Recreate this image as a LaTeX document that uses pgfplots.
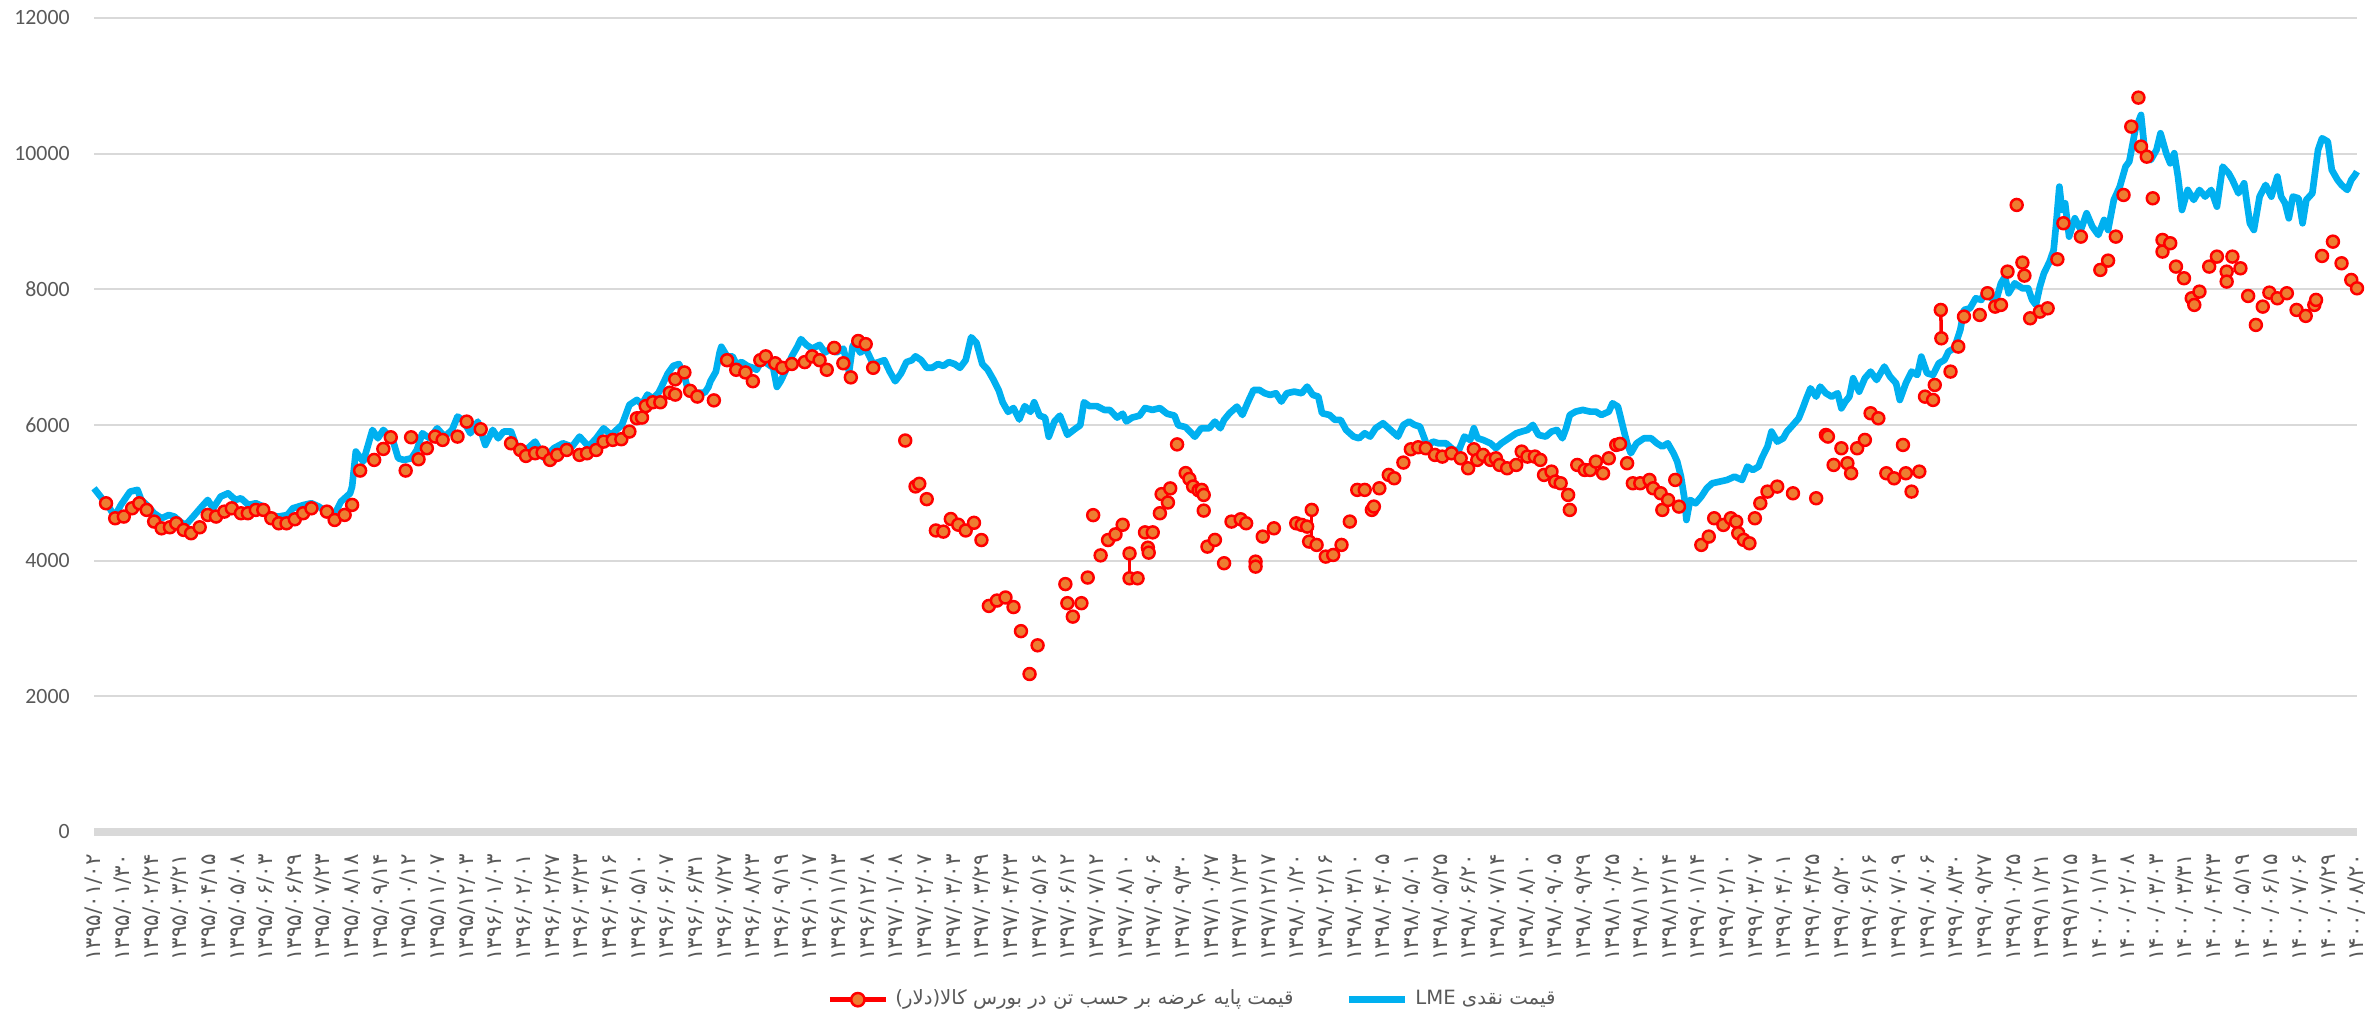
\documentclass[border=0pt]{standalone}
\usepackage{fontspec}
\setmainfont{Carlito}
\newfontfamily\fa[Script=Arabic]{DejaVu Sans}
\usepackage{pgfplots}
\pgfplotsset{compat=1.18}
\TeXXeTstate=1
\definecolor{lmeblue}{HTML}{00B0F0}
\definecolor{mkorange}{HTML}{ED7D31}
\definecolor{gridgray}{HTML}{D9D9D9}
\definecolor{labelgray}{HTML}{595959}
\begin{document}
\begin{tikzpicture}
\begin{axis}[
  name=ax,
  scale only axis, width=22.63cm, height=8.14cm,
  xmin=0, xmax=79, ymin=0, ymax=12000,
  clip=false,
  ytick={0,2000,...,12000},
  xtick={0,...,79},
  xticklabels={۱۳۹۵/۰۱/۰۲,۱۳۹۵/۰۱/۳۰,۱۳۹۵/۰۲/۲۴,۱۳۹۵/۰۳/۲۱,۱۳۹۵/۰۴/۱۵,۱۳۹۵/۰۵/۰۸,۱۳۹۵/۰۶/۰۳,۱۳۹۵/۰۶/۲۹,۱۳۹۵/۰۷/۲۳,۱۳۹۵/۰۸/۱۸,۱۳۹۵/۰۹/۱۴,۱۳۹۵/۱۰/۱۲,۱۳۹۵/۱۱/۰۷,۱۳۹۵/۱۲/۰۳,۱۳۹۶/۰۱/۰۳,۱۳۹۶/۰۲/۰۱,۱۳۹۶/۰۲/۲۷,۱۳۹۶/۰۳/۲۳,۱۳۹۶/۰۴/۱۶,۱۳۹۶/۰۵/۱۰,۱۳۹۶/۰۶/۰۷,۱۳۹۶/۰۶/۳۱,۱۳۹۶/۰۷/۲۷,۱۳۹۶/۰۸/۲۳,۱۳۹۶/۰۹/۱۹,۱۳۹۶/۱۰/۱۷,۱۳۹۶/۱۱/۱۳,۱۳۹۶/۱۲/۰۸,۱۳۹۷/۰۱/۰۸,۱۳۹۷/۰۲/۰۷,۱۳۹۷/۰۳/۰۳,۱۳۹۷/۰۳/۲۹,۱۳۹۷/۰۴/۲۳,۱۳۹۷/۰۵/۱۶,۱۳۹۷/۰۶/۱۲,۱۳۹۷/۰۷/۱۲,۱۳۹۷/۰۸/۱۰,۱۳۹۷/۰۹/۰۶,۱۳۹۷/۰۹/۳۰,۱۳۹۷/۱۰/۲۷,۱۳۹۷/۱۱/۲۳,۱۳۹۷/۱۲/۱۷,۱۳۹۸/۰۱/۲۰,۱۳۹۸/۰۲/۱۶,۱۳۹۸/۰۳/۱۰,۱۳۹۸/۰۴/۰۵,۱۳۹۸/۰۵/۰۱,۱۳۹۸/۰۵/۲۵,۱۳۹۸/۰۶/۲۰,۱۳۹۸/۰۷/۱۴,۱۳۹۸/۰۸/۱۰,۱۳۹۸/۰۹/۰۵,۱۳۹۸/۰۹/۲۹,۱۳۹۸/۱۰/۲۵,۱۳۹۸/۱۱/۲۰,۱۳۹۸/۱۲/۱۴,۱۳۹۹/۰۱/۱۴,۱۳۹۹/۰۲/۱۰,۱۳۹۹/۰۳/۰۷,۱۳۹۹/۰۴/۰۱,۱۳۹۹/۰۴/۲۵,۱۳۹۹/۰۵/۲۰,۱۳۹۹/۰۶/۱۶,۱۳۹۹/۰۷/۰۹,۱۳۹۹/۰۸/۰۶,۱۳۹۹/۰۸/۳۰,۱۳۹۹/۰۹/۲۷,۱۳۹۹/۱۰/۲۵,۱۳۹۹/۱۱/۲۱,۱۳۹۹/۱۲/۱۵,۱۴۰۰/۰۱/۱۳,۱۴۰۰/۰۲/۰۸,۱۴۰۰/۰۳/۰۳,۱۴۰۰/۰۳/۳۱,۱۴۰۰/۰۴/۲۳,۱۴۰۰/۰۵/۱۹,۱۴۰۰/۰۶/۱۵,۱۴۰۰/۰۷/۰۶,۱۴۰۰/۰۷/۲۹,۱۴۰۰/۰۸/۲۰},
  x tick label style={rotate=90, anchor=east, font=\fa\fontsize{6.1}{7}\selectfont, text=labelgray, inner sep=1pt},
  y tick label style={font=\fontsize{6.2}{7}\selectfont, text=labelgray},
  xticklabel shift=0.18cm,
  yticklabel shift=0.12cm,
  ymajorgrids, grid style={draw=gridgray, line width=0.6pt},
  axis line style={draw=none},
  major tick length=0pt,
  scaled y ticks=false,
  /pgf/number format/1000 sep={},
  /pgf/number format/assume math mode=true,
  extra y ticks={0}, extra y tick labels={},
  extra y tick style={grid=major, major grid style={draw=gridgray, line width=2.3pt}},
  legend columns=2,
  legend style={draw=none, fill=none, at={(0.4865,-0.206)}, anchor=center,
    font=\fa\fontsize{5.6}{7}\selectfont, text=labelgray,
    /tikz/every even column/.append style={column sep=0.45cm}},
  legend cell align=left,
]
% connecting red segments where consecutive points exist
\addplot[red, line width=1pt, forget plot] coordinates {(36.15,4106)(36.15,3740)};
\addplot[red, line width=1pt, forget plot] coordinates {(42.51,4748)(42.51,4281)};
\addplot[red, line width=1pt, forget plot] coordinates {(64.47,7696)(64.49,7278)};
% base price on commodity exchange
\addplot[only marks, mark=*, mark size=1.7pt, mark options={draw=red, fill=mkorange, line width=0.7pt},
  legend image code/.code={\draw[red, line width=1.4pt] (0cm,0cm) -- (0.56cm,0cm);
    \draw[red, fill=mkorange, line width=0.7pt] (0.28cm,0cm) circle (1.9pt);}]
coordinates {
(0.42,4846)(0.74,4625)(1.04,4650)(1.33,4772)(1.58,4846)(1.84,4748)(2.10,4576)(2.36,4477)(2.65,4492)(2.87,4551)
(3.13,4453)(3.39,4404)(3.69,4492)(3.97,4674)(4.26,4650)(4.55,4723)(4.81,4772)(5.13,4699)(5.37,4699)(5.65,4748)
(5.91,4748)(6.19,4625)(6.45,4551)(6.72,4551)(7.01,4610)(7.30,4699)(7.59,4772)(8.13,4723)(8.40,4600)(8.75,4674)
(9.01,4822)(9.29,5328)(9.78,5485)(10.10,5647)(10.36,5819)(10.88,5328)(11.07,5819)(11.33,5495)(11.62,5657)(11.91,5829)
(12.17,5780)(12.69,5829)(13.01,6050)(13.50,5937)(14.56,5730)(14.88,5632)(15.08,5544)(15.40,5583)(15.66,5593)(15.92,5485)
(16.17,5559)(16.50,5632)(16.95,5559)(17.21,5583)(17.53,5632)(17.79,5755)(18.11,5780)(18.41,5790)(18.69,5903)(18.95,6099)
(19.13,6109)(19.26,6278)(19.51,6335)(19.77,6335)(20.10,6476)(20.29,6448)(20.29,6673)(20.61,6775)(20.81,6504)(21.06,6419)
(21.64,6363)(22.10,6955)(22.42,6814)(22.74,6775)(23.00,6645)(23.26,6955)(23.45,7012)(23.78,6910)(24.03,6843)(24.36,6899)
(24.81,6927)(25.07,7012)(25.33,6955)(25.58,6814)(25.84,7136)(26.16,6910)(26.42,6702)(26.68,7238)(26.94,7192)(27.20,6843)
(28.32,5771)(28.68,5094)(28.81,5133)(29.07,4907)(29.39,4445)(29.65,4428)(29.91,4614)(30.17,4530)(30.43,4445)(30.72,4558)
(30.98,4304)(31.24,3333)(31.52,3412)(31.82,3457)(32.10,3316)(32.36,2961)(32.66,2329)(32.94,2752)(33.91,3655)(33.98,3373)
(34.17,3175)(34.47,3373)(34.69,3751)(34.88,4671)(35.14,4078)(35.40,4304)(35.66,4388)(35.91,4529)(36.15,4106)(36.15,3740)
(36.43,3740)(36.69,4417)(36.79,4191)(36.82,4118)(36.96,4417)(37.21,4699)(37.27,4981)(37.49,4857)(37.57,5065)(37.81,5714)
(38.11,5291)(38.24,5206)(38.37,5094)(38.56,5037)
(38.67,5043)(38.74,4969)(38.74,4738)(38.87,4207)(39.13,4306)(39.45,3962)(39.71,4576)(40.03,4610)(40.22,4551)(40.55,3986)
(40.55,3912)(40.80,4355)(41.19,4477)(41.97,4551)(42.16,4527)(42.35,4502)(42.51,4748)(42.42,4281)(42.68,4232)(43.00,4060)
(43.26,4084)(43.55,4232)(43.84,4576)(44.10,5043)(44.36,5043)(44.61,4748)(44.68,4797)(44.87,5067)(45.20,5264)(45.39,5215)
(45.71,5446)(45.97,5642)(46.23,5672)(46.49,5657)(46.81,5559)(47.07,5534)(47.39,5583)(47.71,5509)(47.97,5362)(48.17,5642)
(48.29,5485)(48.49,5559)(48.75,5485)(48.94,5509)(49.07,5411)(49.33,5362)(49.65,5411)(49.84,5608)(50.04,5534)(50.30,5534)
(50.49,5485)(50.62,5264)(50.88,5313)(51.01,5166)(51.20,5141)(51.46,4969)(51.52,4748)(51.78,5411)(52.04,5337)(52.23,5337)
(52.43,5460)(52.68,5288)(52.88,5509)(53.14,5706)(53.27,5721)(53.52,5436)(53.72,5141)(53.98,5141)(54.30,5190)(54.43,5067)
(54.69,4994)(54.75,4748)(54.95,4895)(55.20,5190)(55.33,4797)(56.11,4232)(56.37,4355)(56.56,4625)(56.88,4527)(57.14,4625)
(57.33,4576)(57.40,4404)(57.59,4306)(57.79,4256)(57.98,4625)(58.17,4846)
(58.42,5018)(58.76,5092)(59.31,4993)(60.12,4920)(60.46,5853)(60.53,5829)(60.73,5411)(61.00,5657)(61.21,5436)(61.34,5288)
(61.55,5657)(61.82,5780)(62.02,6173)(62.29,6099)(62.57,5288)(62.84,5214)(63.15,5706)(63.25,5288)(63.45,5018)(63.72,5313)
(63.92,6418)(64.20,6369)(64.26,6590)(64.47,7696)(64.49,7278)(64.81,6787)(65.08,7156)(65.28,7598)(65.83,7622)(66.10,7942)
(66.37,7745)(66.57,7770)(66.80,8261)(67.12,9244)(67.32,8394)(67.39,8202)(67.59,7573)(67.93,7671)(68.20,7720)(68.54,8443)
(68.75,8974)(69.36,8777)(70.04,8286)(70.31,8423)(70.58,8777)(70.85,9391)(71.12,10399)(71.37,10826)(71.46,10104)(71.66,9956)
(71.87,9342)(72.21,8728)(72.21,8556)(72.48,8679)(72.68,8335)(72.96,8163)(73.23,7868)(73.32,7770)(73.50,7966)(73.84,8335)
(74.11,8482)(74.45,8261)(74.45,8114)(74.65,8482)(74.93,8310)(75.20,7902)(75.47,7475)(75.71,7745)(75.94,7951)(76.22,7868)
(76.55,7942)(76.89,7696)(77.21,7608)(77.51,7770)(77.57,7844)(77.78,8492)(78.16,8703)(78.46,8384)(78.80,8138)(79.00,8015)
};
\addlegendentry{\beginR قیمت پایه عرضه بر حسب تن در بورس کالا(دلار)\endR}
% LME cash price
\addplot[lmeblue, line width=1.9pt, line join=round,
  legend image code/.code={\draw[lmeblue, line width=1.9pt] (0cm,0cm) -- (0.56cm,0cm);}]
coordinates {
(0.00,5067)(0.23,4944)(0.55,4772)(0.72,4649)(0.94,4822)(1.26,5018)(1.52,5043)(1.65,4895)(1.84,4822)(2.10,4698)
(2.36,4625)(2.61,4673)(2.81,4649)(3.00,4575)(3.20,4526)(3.46,4649)(3.71,4772)(3.97,4895)(4.16,4772)(4.42,4944)
(4.68,4993)(4.94,4895)(5.13,4920)(5.39,4822)(5.65,4846)(5.91,4797)(6.10,4673)(6.43,4649)(6.75,4673)(6.94,4772)
(7.33,4822)(7.59,4846)(7.85,4797)(8.10,4723)(8.36,4649)(8.62,4870)(8.94,4993)(9.01,5092)(9.14,5608)(9.40,5460)
(9.72,5927)(9.91,5804)(10.10,5927)(10.43,5779)(10.62,5509)(10.82,5484)(11.08,5509)(11.27,5632)(11.46,5878)(11.72,5804)
(11.98,5951)(12.24,5829)(12.50,5927)(12.69,6124)(12.88,6075)(13.14,5878)(13.40,6050)(13.66,5706)(13.92,5927)(14.11,5804)
(14.30,5903)(14.56,5903)(14.75,5681)(15.08,5632)(15.40,5755)(15.72,5509)(16.05,5657)(16.37,5730)(16.69,5681)(16.95,5829)
(17.27,5681)(17.53,5804)(17.79,5951)(18.05,5853)(18.43,6001)(18.69,6296)(18.95,6370)
(19.13,6307)(19.32,6448)(19.51,6391)(19.71,6476)(19.84,6589)(20.03,6758)(20.22,6871)(20.42,6899)(20.61,6730)(20.74,6504)
(20.93,6448)(21.13,6476)(21.32,6476)(21.45,6561)(21.52,6645)(21.71,6786)(21.84,7068)(21.90,7153)(22.10,7012)(22.29,7012)
(22.42,6899)(22.61,6927)(22.81,6871)(23.00,6843)(23.13,6814)(23.32,6955)(23.52,6899)(23.71,6843)(23.84,6561)(23.97,6645)
(24.16,6814)(24.36,7012)(24.55,7153)(24.68,7266)(24.87,7181)(25.07,7125)(25.33,7181)(25.52,7068)(25.71,7125)(25.91,7068)
(26.16,7125)(26.36,6786)(26.48,7153)(26.55,7209)(26.75,7068)(26.94,7125)(27.20,6899)(27.39,6927)(27.59,6955)(27.78,6786)
(27.97,6645)(28.17,6758)(28.36,6927)(28.55,6955)(28.68,7012)(28.88,6955)(29.07,6843)(29.26,6843)(29.46,6899)(29.65,6871)
(29.84,6927)(30.04,6899)(30.23,6843)(30.43,6955)(30.62,7294)(30.81,7209)(31.01,6899)(31.20,6814)(31.39,6674)(31.59,6504)
(31.72,6335)(31.91,6194)(32.10,6250)(32.30,6081)(32.49,6278)(32.69,6194)(32.82,6335)(33.01,6138)(33.20,6109)(33.33,5827)
(33.53,6053)(33.72,6138)(33.98,5855)(34.24,5940)(34.43,5996)(34.56,6335)(34.75,6278)(35.01,6278)(35.27,6222)(35.46,6222)
(35.72,6109)(35.91,6166)(36.04,6053)(36.24,6109)(36.50,6138)(36.69,6250)(36.95,6222)(37.21,6250)(37.46,6166)(37.72,6138)
(37.85,5996)(38.11,5968)(38.43,5827)(38.63,5940)
(38.67,5952)(38.93,5952)(39.13,6050)(39.32,5952)(39.45,6075)(39.64,6173)(39.90,6271)(40.09,6148)(40.29,6345)(40.48,6517)
(40.68,6517)(40.87,6468)(41.06,6443)(41.26,6468)(41.45,6345)(41.64,6468)(41.90,6492)(42.16,6468)(42.35,6566)(42.55,6443)
(42.74,6419)(42.87,6173)(43.13,6148)(43.32,6075)(43.52,6075)(43.71,5927)(43.97,5829)(44.16,5804)(44.36,5878)(44.55,5829)
(44.74,5952)(45.00,6026)(45.26,5927)(45.52,5829)(45.71,6001)(45.91,6050)(46.10,6001)(46.29,5976)(46.42,5829)(46.55,5681)
(46.74,5755)(46.94,5730)(47.20,5730)(47.46,5632)(47.65,5632)(47.84,5829)(48.04,5780)(48.17,5952)(48.30,5804)(48.49,5780)
(48.75,5730)(48.94,5657)(49.13,5730)(49.39,5804)(49.65,5878)(49.84,5903)(50.04,5927)(50.23,6001)(50.43,5853)(50.68,5829)
(50.88,5903)(51.07,5927)(51.26,5804)(51.39,5952)(51.52,6148)(51.72,6197)(51.97,6222)(52.23,6197)(52.43,6197)(52.62,6148)
(52.88,6197)(53.01,6320)(53.20,6271)(53.40,5927)(53.52,5730)(53.65,5583)(53.85,5730)(54.11,5804)(54.36,5804)(54.56,5730)
(54.75,5681)(54.94,5730)(55.14,5583)(55.27,5460)(55.40,5239)(55.53,4895)(55.59,4600)(55.72,4895)(55.91,4846)(56.11,4944)
(56.30,5067)(56.49,5141)(56.75,5165)(57.01,5190)(57.27,5239)(57.53,5190)(57.72,5387)(57.91,5337)(58.11,5387)
(58.22,5509)(58.42,5681)(58.56,5903)(58.76,5755)(58.97,5804)(59.10,5903)(59.31,6001)(59.51,6099)(59.65,6246)(59.78,6394)
(59.92,6541)(60.12,6418)(60.26,6566)(60.46,6468)(60.66,6418)(60.87,6468)(61.00,6246)(61.14,6345)(61.28,6418)(61.41,6689)
(61.62,6492)(61.82,6689)(62.02,6787)(62.23,6664)(62.50,6861)(62.70,6713)(62.91,6615)(63.04,6369)(63.25,6615)(63.45,6787)
(63.65,6738)(63.79,7008)(63.99,6763)(64.20,6738)(64.40,6910)(64.60,6959)(64.74,7082)(64.94,7131)(65.15,7401)(65.28,7696)
(65.49,7720)(65.69,7868)(65.89,7844)(66.03,7991)(66.23,7868)(66.44,7893)(66.57,8089)(66.71,8187)(66.84,7942)(67.05,8089)
(67.32,8015)(67.52,8015)(67.66,7844)(67.79,7770)(67.93,8040)(68.07,8236)(68.27,8409)(68.41,8580)(68.50,8974)(68.61,9514)
(68.70,9170)(68.81,9269)(68.95,8777)(69.15,9047)(69.36,8875)(69.56,9121)(69.76,8925)(69.97,8802)(70.17,9023)(70.31,8875)
(70.51,9318)(70.72,9514)(70.92,9809)(71.05,9883)(71.26,10350)(71.46,10571)(71.60,10006)(71.80,9907)(72.00,10055)(72.14,10300)
(72.34,10006)(72.48,9858)(72.62,10006)(72.75,9662)(72.89,9170)(73.09,9465)(73.30,9318)(73.50,9465)(73.70,9367)(73.91,9465)
(74.11,9219)(74.31,9809)(74.52,9711)(74.65,9613)(74.86,9416)(75.06,9563)(75.26,8974)(75.40,8875)(75.60,9367)(75.81,9539)
(76.01,9367)(76.22,9662)(76.35,9367)(76.49,9269)(76.62,9047)(76.76,9367)(76.96,9342)(77.10,8974)(77.23,9318)(77.44,9416)
(77.64,10055)(77.78,10227)(77.98,10178)(78.12,9760)(78.32,9613)(78.46,9539)(78.66,9465)(78.80,9613)(78.93,9686)(79.00,9735)
};
\addlegendentry{\beginR قیمت نقدی LME\endR}
\end{axis}
\pgfresetboundingbox
\path[use as bounding box] ([shift={(-0.94cm,-1.82cm)}]ax.south west) rectangle ([shift={(0.20cm,0.18cm)}]ax.north east);
\end{tikzpicture}
\end{document}
